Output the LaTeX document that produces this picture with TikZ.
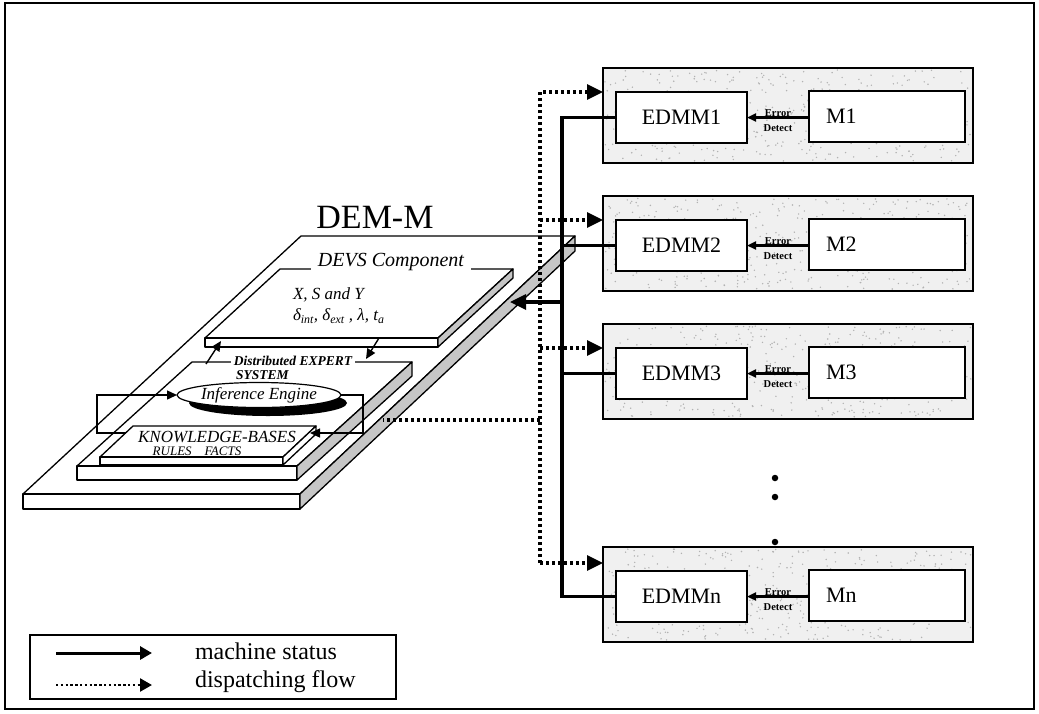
\documentclass[tikz,border=0pt]{standalone}
\usepackage{fontspec}
\setmainfont{Liberation Serif}
\usetikzlibrary{arrows.meta,calc,shapes.geometric}

\begin{document}
\begin{tikzpicture}[x=1pt,y=-1pt,
  every node/.style={inner sep=0pt, outer sep=0pt},
  frame/.style={draw, line width=1.5pt},
  face/.style={draw, line width=1.3pt, fill=white, line join=round},
  side/.style={draw, line width=1.3pt, fill=gray!45, line join=round},
  unit/.style={draw, line width=1.7pt, fill=gray!12, minimum width=370pt, minimum height=95pt, anchor=north west},
  edmm/.style={draw, line width=1.7pt, fill=white, minimum width=131pt, minimum height=51pt, anchor=north west, font=\fontsize{22}{24}\selectfont},
  mach/.style={draw, line width=1.7pt, fill=white, minimum width=156pt, minimum height=51pt, anchor=north west},
  mlabel/.style={anchor=west, font=\fontsize{22}{24}\selectfont},
  status/.style={line width=3.3pt},
  dispatch/.style={line width=3.1pt, dash pattern=on 3pt off 3pt},
  bigtip/.style={-{Triangle[length=16pt,width=15pt]}},
  smalltip/.style={-{Triangle[length=10pt,width=9pt]}},
  flow/.style={line width=1.4pt, smalltip},
  errarrow/.style={line width=2.2pt, -{Triangle[length=9pt,width=8pt]}},
  errtext/.style={font=\bfseries\fontsize{10.5}{11}\selectfont},
  itext/.style={font=\itshape\fontsize{17}{19}\selectfont},
  esys/.style={font=\bfseries\itshape\fontsize{13.5}{15}\selectfont},
  legtext/.style={anchor=west, font=\fontsize{24}{26}\selectfont},
  ellipsisdot/.style={circle, fill, minimum size=6.5pt},
  speck/.style={fill=gray!60},
]
\useasboundingbox (0,0) rectangle (1039,713);
\draw[frame] (5,3) rectangle (1034,709);

% ---------- DEM-M platform ----------
% base slab
\coordinate (b1) at (23,494);
\coordinate (b2) at (300,494);
\coordinate (b3) at (575,236);
\coordinate (b4) at (301,236);
\draw[face] (b1) -- (b2) -- (b3) -- (b4) -- cycle;
\draw[face] (b1) rectangle ($(b2)+(0,15)$);
\draw[side] (b2) -- (b3) -- ($(b3)+(0,15)$) -- ($(b2)+(0,15)$) -- cycle;
\node[font=\fontsize{34}{36}\selectfont] (demm) at (375,217) {DEM-M};

% expert system slab
\coordinate (s1) at (77,466);
\coordinate (s2) at (297,466);
\coordinate (s3) at (412,362);
\coordinate (s4) at (192,362);
\draw[face] (s1) -- (s2) -- (s3) -- (s4) -- cycle;
\draw[face] (s1) rectangle ($(s2)+(0,14)$);
\draw[side] (s2) -- (s3) -- ($(s3)+(0,14)$) -- ($(s2)+(0,14)$) -- cycle;

% knowledge-base slab
\coordinate (k1) at (100,457);
\coordinate (k2) at (283,457);
\coordinate (k3) at (316,426);
\coordinate (k4) at (133,426);
\draw[face] (k1) -- (k2) -- (k3) -- (k4) -- cycle;
\draw[face] (k1) rectangle ($(k2)+(0,8)$);
\draw[face] (k2) -- (k3) -- ($(k3)+(0,8)$) -- ($(k2)+(0,8)$) -- cycle;
\node[font=\itshape\fontsize{17}{18}\selectfont] (kb) at (217,437) {KNOWLEDGE-BASES};
\node[font=\itshape\fontsize{13}{14}\selectfont] (rf) at (197,451) {RULES\quad FACTS};

% inference engine with its shadow
\fill (268,403) ellipse [x radius=79pt, y radius=13pt];
\node[draw, ellipse, fill=white, line width=1.2pt, minimum width=158pt, minimum height=25pt, itext] (ie) at (259,395) {Inference Engine};
\coordinate (kbl) at (126,433);
\coordinate (kbr) at (310,433);
\draw[flow] (kbl) -| ([xshift=-80pt]ie.west) -- (ie.west);
\draw[flow] (ie.east) -- ++(22,0) |- (kbr);

\node[esys, fill=white, inner xsep=3pt, inner ysep=1pt] (des) at (293,361) {Distributed EXPERT};
\node[anchor=west, esys] (sys) at (236,375) {SYSTEM};

% DEVS component slab
\coordinate (d1) at (205,338);
\coordinate (d2) at (438,338);
\coordinate (d3) at (513,269);
\coordinate (d4) at (280,269);
\draw[face] (d1) -- (d2) -- (d3) -- (d4) -- cycle;
\draw[face] (d1) rectangle ($(d2)+(0,9)$);
\draw[side] (d2) -- (d3) -- ($(d3)+(0,9)$) -- ($(d2)+(0,9)$) -- cycle;
\node[font=\itshape\fontsize{20}{22}\selectfont, fill=white, inner xsep=7pt, inner ysep=1pt] (devs) at (391,262) {DEVS Component};
\node[anchor=west, itext] (xsy) at (293,295) {X, S and Y};
\node[anchor=west, itext] (fns) at (293,316) {δ\textsubscript{int}, δ\textsubscript{ext} , λ, t\textsubscript{a}};

% exchanges between DEVS component and expert system
\coordinate (up1) at (206,364);
\coordinate (up2) at (221,341);
\coordinate (dn1) at (379,338);
\coordinate (dn2) at (366,359);
\draw[flow] (up1) -- (up2);
\draw[flow] (dn1) -- (dn2);

% ---------- machine units ----------
\pgfmathsetseed{7}
\foreach \k/\t in {1/68,2/196,3/324,n/547} {
  \node[unit] (B\k) at (603,\t) {};
  \foreach \i in {1,...,420} {
    \fill[speck] ($(B\k.north west)+(2+rnd*366,2+rnd*91)$) circle (0.8pt);
  }
  \node[edmm] (E\k) at (616,\t+24) {EDMM\k};
  \node[mach] (M\k) at (809,\t+23) {};
  \node[mlabel] (ML\k) at ([xshift=17pt]M\k.west) {M\k};
  \draw[errarrow] (M\k.west |- E\k.east) -- (E\k.east);
  \node[errtext] (ER\k) at ($(E\k.east)!0.5!(M\k.west |- E\k.east)+(0,-4.5)$) {Error};
  \node[errtext] (DT\k) at ($(E\k.east)!0.5!(M\k.west |- E\k.east)+(0,10.5)$) {Detect};
}
\node[ellipsisdot] (dotA) at (775,478) {};
\node[ellipsisdot] (dotB) at (775,497) {};
\node[ellipsisdot] (dotC) at (775,542) {};

% ---------- connectors ----------
\coordinate (ts) at (562,0);
\coordinate (td) at (540,0);
\coordinate (dn) at (603,563);
\coordinate (pin) at (383,420);
\coordinate (pout) at (510,302);

% machine status
\draw[status] (E1.west) -- (E1.west -| ts) -- (En.west -| ts) -- (En.west);
\draw[status] (E2.west -| ts) -- (E2.west);
\draw[status] (E3.west -| ts) -- (E3.west);
\draw[status, bigtip] (pout -| ts) -- (pout);

% dispatching flow
\draw[dispatch, bigtip] (dn -| td) -- (E1.north -| td) -- (E1.north -| B1.west);
\draw[dispatch, bigtip] (E2.north -| td) -- (E2.north -| B2.west);
\draw[dispatch, bigtip] (E3.north -| td) -- (E3.north -| B3.west);
\draw[dispatch, bigtip] (dn -| td) -- (dn);
\draw[dispatch] (pin -| td) -- (pin);

% ---------- legend ----------
\node[draw, line width=1.5pt, minimum width=366pt, minimum height=64pt, anchor=north west] (leg) at (30,635) {};
\coordinate (l1a) at (56,653);
\coordinate (l1b) at (152,653);
\coordinate (l2a) at (56,685);
\coordinate (l2b) at (152,685);
\draw[line width=3pt, -{Triangle[length=12pt,width=13pt]}] (l1a) -- (l1b);
\draw[line width=2.4pt, dash pattern=on 2.4pt off 2.4pt, -{Triangle[length=12pt,width=13pt]}] (l2a) -- (l2b);
\node[legtext] (lt1) at (195,651) {machine status};
\node[legtext] (lt2) at (195,682) {dispatching flow};
\end{tikzpicture}
\end{document}
